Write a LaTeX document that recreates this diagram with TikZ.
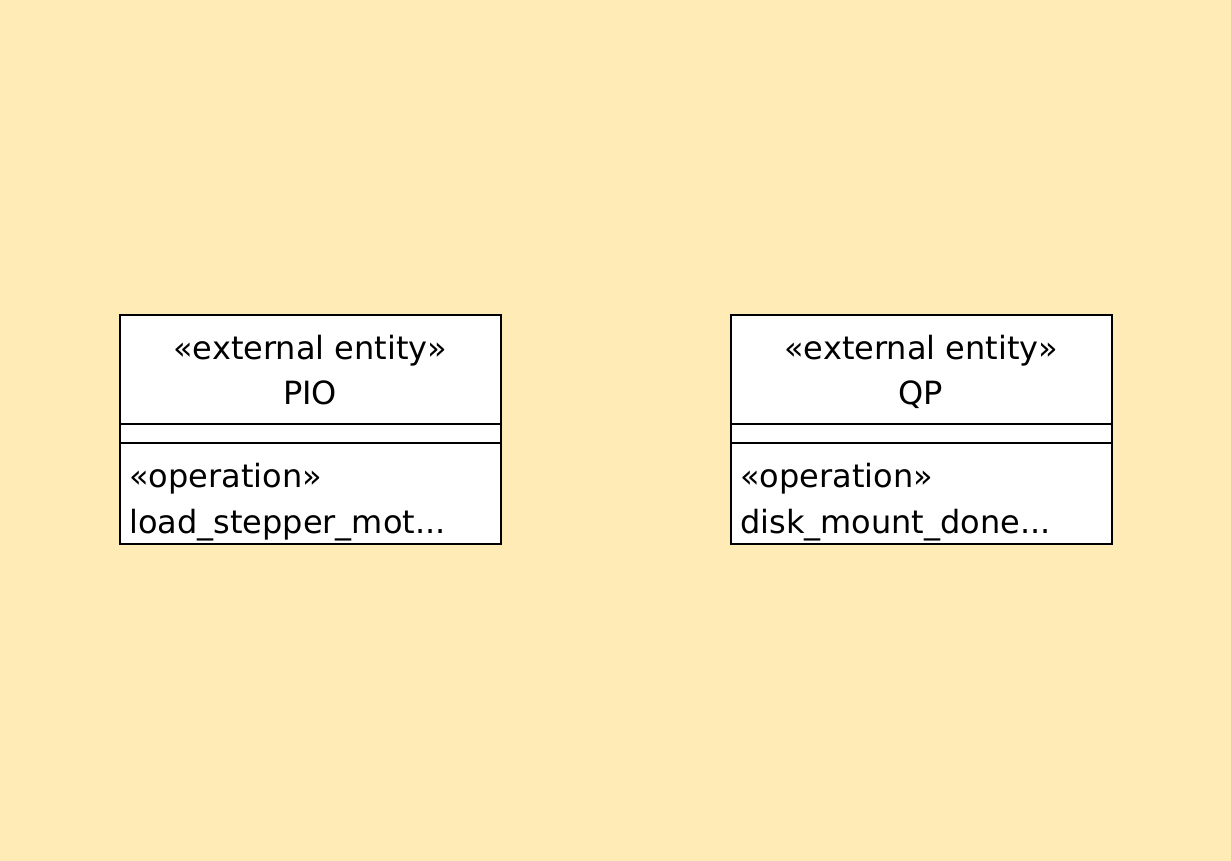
\documentclass[tikz,border=0pt]{standalone}
\usepackage{fontspec}
\setmainfont{DejaVu Sans}
\definecolor{bgc}{HTML}{FFEBB5}
\begin{document}
\begin{tikzpicture}[x=1pt,y=-1pt,
  classbox/.style={draw=black,line width=2pt,fill=white,minimum width=381pt,minimum height=229pt,anchor=north west,inner sep=0pt},
  txt/.style={font=\fontsize{32}{36}\selectfont,inner sep=0pt,text=black},
  divider/.style={line width=2pt}]
\fill[bgc] (0,0) rectangle (1231,861);
\useasboundingbox (0,0) rectangle (1231,861);
% PIO
\node[classbox] (pio) at (119,314) {};
\draw[divider] (119,424) coordinate (pa1) -- (500,424) coordinate (pa2);
\draw[divider] (119,443) coordinate (pb1) -- (500,443) coordinate (pb2);
\node[txt,anchor=base] (pioster) at (310,359) {«external entity»};
\node[txt,anchor=base] (pioname) at (310,404) {PIO};
\node[txt,anchor=base west] (pioop) at (129,487) {«operation»};
\node[txt,anchor=base west] (pioopn) at (129,533) {load\_stepper\_mot...};
% QP
\node[classbox] (qp) at (730,314) {};
\draw[divider] (730,424) coordinate (qa1) -- (1111,424) coordinate (qa2);
\draw[divider] (730,443) coordinate (qb1) -- (1111,443) coordinate (qb2);
\node[txt,anchor=base] (qpster) at (921,359) {«external entity»};
\node[txt,anchor=base] (qpname) at (921,404) {QP};
\node[txt,anchor=base west] (qpop) at (740,487) {«operation»};
\node[txt,anchor=base west] (qpopn) at (740,533) {disk\_mount\_done...};
\end{tikzpicture}
\end{document}
